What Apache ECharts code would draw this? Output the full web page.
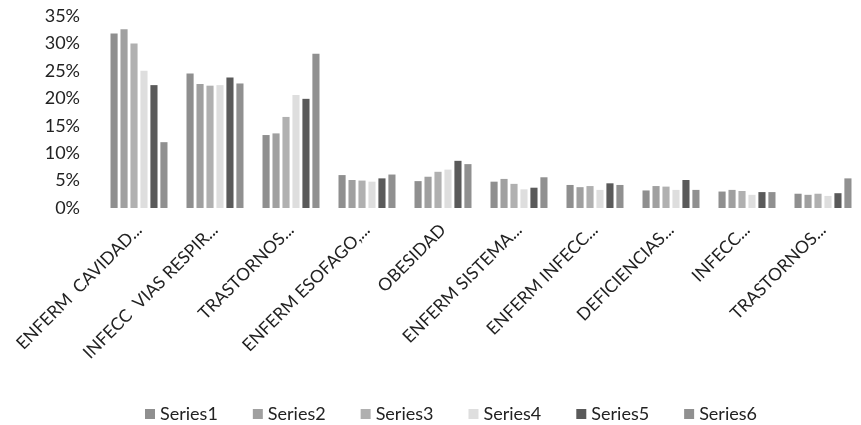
<!DOCTYPE html>
<html><head><meta charset="utf-8">
<script src="https://cdn.jsdelivr.net/npm/echarts@6/dist/echarts.min.js"></script>
<style>html,body{margin:0;padding:0;background:#fff}#c{width:861px;height:425px}</style>
</head><body><div id="c"></div>
<script>
var categories = ["ENFERM  CAVIDAD...", "INFECC  VIAS RESPIR...", "TRASTORNOS...", "ENFERM ESOFAGO,...", "OBESIDAD", "ENFERM SISTEMA...", "ENFERM INFECC...", "DEFICIENCIAS...", "INFECC...", "TRASTORNOS..."];
var series1 = [31.8, 24.5, 13.3, 6.0, 4.9, 4.8, 4.2, 3.2, 3.0, 2.6];
var series2 = [32.6, 22.6, 13.6, 5.1, 5.7, 5.3, 3.8, 4.0, 3.3, 2.4];
var series3 = [30.0, 22.3, 16.6, 5.0, 6.6, 4.4, 4.0, 3.9, 3.1, 2.6];
var series4 = [25.0, 22.4, 20.6, 4.8, 7.0, 3.4, 3.3, 3.3, 2.4, 2.2];
var series5 = [22.4, 23.8, 19.9, 5.4, 8.6, 3.7, 4.5, 5.1, 2.9, 2.7];
var series6 = [12.0, 22.7, 28.1, 6.1, 8.0, 5.6, 4.2, 3.3, 2.9, 5.4];
var seriesNames = ["Series1", "Series2", "Series3", "Series4", "Series5", "Series6"];
var yTicks = [0, 5, 10, 15, 20, 25, 30, 35];

var colors = ["#8f8f8f", "#a0a0a0", "#b0b0b0", "#dedede", "#5a5a5a", "#909090"];
var allData = [series1, series2, series3, series4, series5, series6];
var font = "Lato, 'Open Sans', sans-serif";
var chart = echarts.init(document.getElementById('c'), null, {renderer: 'canvas'});
chart.setOption({
  animation: false,
  color: colors,
  grid: {left: 101, top: 16, width: 768, height: 192, containLabel: false},
  legend: {
    top: 400, left: 140, itemWidth: 10, itemHeight: 10, itemGap: 35,
    icon: 'rect',
    textStyle: {fontFamily: font, fontSize: 18, color: '#222'},
    data: seriesNames
  },
  xAxis: {
    type: 'category', data: categories,
    axisLine: {show: false}, axisTick: {show: false},
    axisLabel: {rotate: 45, interval: 0, fontFamily: font, fontSize: 17.5, color: '#222', margin: 19}
  },
  yAxis: {
    type: 'value', min: yTicks[0], max: yTicks[yTicks.length - 1], interval: 5,
    axisLine: {show: false}, axisTick: {show: false},
    splitLine: {show: false},
    axisLabel: {formatter: '{value}%', fontFamily: font, fontSize: 18, color: '#222', margin: 21}
  },
  series: seriesNames.map(function (n, i) {
    return {name: n, type: 'bar', data: allData[i], barGap: '40%', barCategoryGap: '25%'};
  })
});
</script></body></html>
